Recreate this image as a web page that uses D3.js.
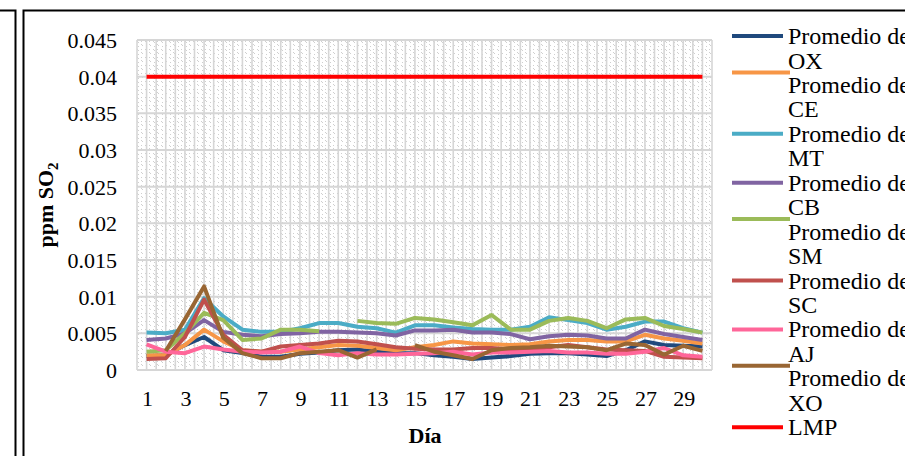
<!DOCTYPE html>
<html><head><meta charset="utf-8">
<script src="https://cdn.jsdelivr.net/npm/d3@7"></script>
<style>body{margin:0;background:#fff}svg{display:block}</style>
</head><body>
<svg id="c" width="905" height="456"></svg>
<script>
const days = d3.range(1, 31);
const yTicks = [0, 0.005, 0.01, 0.015, 0.02, 0.025, 0.03, 0.035, 0.04, 0.045];
const yTickLabels = ["0","0.005","0.01","0.015","0.02","0.025","0.03","0.035","0.04","0.045"];
const xTickLabels = ["1","3","5","7","9","11","13","15","17","19","21","23","25","27","29"];
const seriesNames = ["OX","CE","MT","CB","SM","SC","AJ","XO","LMP"];
const seriesColors = ["#1F497D","#F79646","#4BACC6","#8064A2","#9BBB59","#C0504D","#FF6699","#996633","#FF0000"];
const OX = [0.0019,0.0020,0.0034,0.0045,0.0027,0.0023,0.0018,0.0018,0.0022,0.0024,0.0027,0.0028,0.0025,0.0023,0.0023,0.0020,0.0018,0.0015,0.0017,0.0019,0.0022,0.0023,0.0023,0.0021,0.0019,0.0027,0.0039,0.0034,0.0033,0.0032];
const CE = [0.0020,0.0020,0.0034,0.0055,0.0039,0.0027,0.0025,0.0025,0.0028,0.0031,0.0034,0.0033,0.0030,0.0027,0.0031,0.0034,0.0039,0.0036,0.0035,0.0034,0.0035,0.0039,0.0041,0.0041,0.0039,0.0039,0.0048,0.0043,0.0040,0.0036];
const MT = [0.0051,0.0050,0.0055,0.0098,0.0073,0.0055,0.0052,0.0052,0.0057,0.0064,0.0064,0.0059,0.0057,0.0051,0.0061,0.0061,0.0058,0.0056,0.0055,0.0055,0.0059,0.0072,0.0068,0.0064,0.0055,0.0059,0.0066,0.0066,0.0057,0.0051];
const CB = [0.0041,0.0043,0.0050,0.0068,0.0052,0.0048,0.0046,0.0049,0.0050,0.0052,0.0052,0.0051,0.0050,0.0047,0.0054,0.0054,0.0055,0.0051,0.0051,0.0049,0.0042,0.0046,0.0048,0.0047,0.0043,0.0043,0.0055,0.0049,0.0045,0.0041];
const SM = [0.0025,0.0027,0.0050,0.0078,0.0068,0.0041,0.0043,0.0055,0.0055,0.0053,null,0.0067,0.0064,0.0063,0.0071,0.0069,0.0065,0.0061,0.0075,0.0055,0.0055,0.0067,0.0071,0.0067,0.0057,0.0069,0.0071,0.0060,0.0056,0.0051];
const SC = [0.0015,0.0016,0.0045,0.0096,0.0048,0.0027,0.0025,0.0032,0.0034,0.0036,0.0040,0.0039,0.0035,0.0031,0.0029,0.0028,0.0028,0.0030,0.0030,0.0028,0.0027,0.0031,0.0034,0.0031,0.0028,0.0027,0.0026,0.0018,0.0017,0.0016];
const AJ = [0.0035,0.0025,0.0023,0.0032,0.0028,0.0025,0.0024,0.0025,0.0032,0.0023,0.0020,0.0023,0.0021,0.0021,0.0022,0.0023,0.0025,0.0021,0.0024,0.0024,0.0025,0.0026,0.0024,0.0024,0.0022,0.0022,0.0025,0.0030,0.0020,0.0018];
const XO = [null,0.0026,0.0069,0.0114,0.0044,0.0023,0.0016,0.0016,0.0023,0.0025,0.0027,0.0017,0.0028,null,0.0034,0.0025,0.0020,0.0015,0.0027,0.0030,0.0031,0.0033,0.0032,0.0031,0.0027,0.0036,0.0034,0.0021,0.0033,0.0026];
const LMP = days.map(() => 0.04);
const seriesValues = [OX,CE,MT,CB,SM,SC,AJ,XO,LMP];

const svg = d3.select("#c");
const font = "'Liberation Serif','Times New Roman',serif";
const plot = {l:137, r:712, t:40, b:370};
const x = d3.scaleBand().domain(days).range([plot.l, plot.r]);
const cx = d => x(d) + x.bandwidth()/2;
const y = d3.scaleLinear().domain([0, 0.045]).range([plot.b, plot.t]);

// frames
svg.append("path").attr("d","M0,10.5H15.5V456").attr("fill","none").attr("stroke","#000").attr("stroke-width",2);
svg.append("path").attr("d","M23.5,456V10.5H905").attr("fill","none").attr("stroke","#000").attr("stroke-width",2);

// pattern
const defs = svg.append("defs");
const pat = defs.append("pattern").attr("id","pf").attr("patternUnits","userSpaceOnUse")
  .attr("width",8).attr("height",8);
pat.append("rect").attr("width",8).attr("height",8).attr("fill","#fff");
[[1,1],[2,2],[5,4],[6,5],[2,6],[5,1]].forEach(([a,b]) =>
  pat.append("rect").attr("x",a).attr("y",b).attr("width",1).attr("height",1).attr("fill","#cfcfcf"));
svg.append("rect").attr("x",plot.l).attr("y",plot.t).attr("width",plot.r-plot.l).attr("height",plot.b-plot.t)
  .attr("fill","url(#pf)");

// vertical gridlines (category centers and boundaries)
const vg = svg.append("g").attr("stroke","#d6d6d6").attr("stroke-width",1.6);
days.forEach(d => {
  vg.append("line").attr("x1",x(d)).attr("x2",x(d)).attr("y1",plot.t).attr("y2",plot.b);
  vg.append("line").attr("x1",cx(d)).attr("x2",cx(d)).attr("y1",plot.t).attr("y2",plot.b);
});
vg.append("line").attr("x1",plot.r).attr("x2",plot.r).attr("y1",plot.t).attr("y2",plot.b);
const hg = svg.append("g").attr("stroke","#d6d6d6").attr("stroke-width",2);
yTicks.forEach(t => hg.append("line").attr("x1",plot.l).attr("x2",plot.r).attr("y1",y(t)).attr("y2",y(t)));

// y labels
yTicks.forEach((t,i) => svg.append("text").attr("x",117).attr("y",y(t)+8)
  .attr("text-anchor","end").attr("font-family",font).attr("font-size",22).attr("fill","#000").text(yTickLabels[i]));
// x labels
xTickLabels.forEach(lb => svg.append("text").attr("x",cx(+lb)+1).attr("y",406)
  .attr("text-anchor","middle").attr("font-family",font).attr("font-size",22).attr("fill","#000").text(lb));

// axis titles
svg.append("text").attr("x",425).attr("y",443).attr("text-anchor","middle").attr("font-family",font)
  .attr("font-size",22).attr("font-weight","bold").text("Día");
const yt = svg.append("text").attr("transform","translate(53,205) rotate(-90)").attr("text-anchor","middle")
  .attr("font-family",font).attr("font-size",22).attr("font-weight","bold");
yt.append("tspan").text("ppm SO");
yt.append("tspan").attr("font-size",15).attr("dy",5).text("2");

// lines
const line = d3.line().defined(v => v != null).x((v,i) => cx(days[i])).y(v => y(v));
const order = [8,0,1,2,3,4,5,6,7];
order.forEach(k => {
  svg.append("path").datum(seriesValues[k]).attr("d",line).attr("fill","none")
    .attr("stroke",seriesColors[k]).attr("stroke-width",4).attr("stroke-linejoin","round");
});

// legend
const lg = svg.append("g");
seriesNames.forEach((n,i) => {
  const top = 36 + i*48.9;
  const long = (i===1||i===4||i===7);
  const symY = long ? top-12.5 : top;
  lg.append("line").attr("x1",732).attr("x2",long?790:783).attr("y1",symY).attr("y2",symY)
    .attr("stroke",seriesColors[i]).attr("stroke-width",4);
  if (n === "LMP") {
    lg.append("text").attr("x",788).attr("y",top+8).attr("font-family",font).attr("font-size",24).text("LMP");
  } else {
    lg.append("text").attr("x",788).attr("y",top+8).attr("font-family",font).attr("font-size",24).text("Promedio de");
    lg.append("text").attr("x",788).attr("y",top+24.5+8).attr("font-family",font).attr("font-size",24).text(n);
  }
});
</script>
</body></html>
